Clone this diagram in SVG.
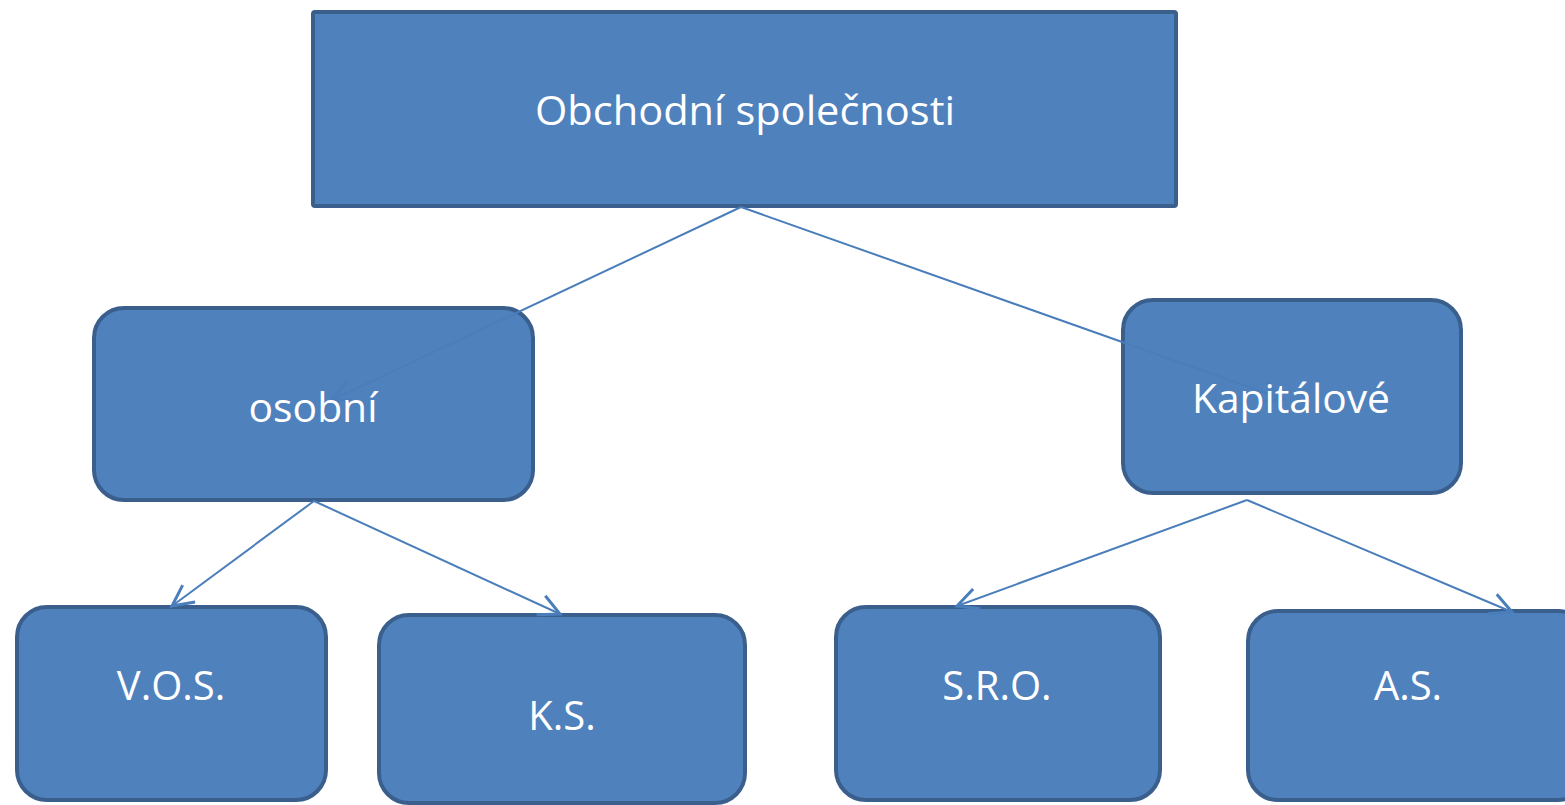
<svg xmlns="http://www.w3.org/2000/svg" width="1565" height="805" viewBox="0 0 1565 805">
  <style>
    .box { fill: #4F81BD; stroke: #3A5F8D; stroke-width: 4; }
    .lbl { fill: #FFFFFF; font-family: "Open Sans", "Noto Sans", "DejaVu Sans", sans-serif; font-size: 40px; text-anchor: middle; }
    .conn { fill: none; stroke: #4A7EBB; stroke-width: 2; }
  </style>
  <defs>
    <marker id="arr" markerUnits="userSpaceOnUse" markerWidth="30" markerHeight="30" viewBox="-16 -10 20 20" refX="0" refY="0" orient="auto">
      <path d="M -14 -7 L 0 0 L -14 7" fill="none" stroke="#4A7EBB" stroke-width="2"/>
    </marker>
  </defs>
  <rect width="1565" height="805" fill="#FFFFFF"/>

  <g id="node-obchodni">
    <rect class="box" x="313" y="12" width="863" height="194" rx="2"/>
  </g>
  <g id="node-osobni">
    <rect class="box" x="94" y="308" width="439" height="192" rx="30"/>
  </g>
  <g id="node-kapitalove">
    <rect class="box" x="1123" y="300" width="338" height="193" rx="30"/>
  </g>
  <g id="node-vos">
    <rect class="box" x="17" y="607" width="309" height="193" rx="30"/>
  </g>
  <g id="node-ks">
    <rect class="box" x="379" y="615" width="366" height="188" rx="30"/>
  </g>
  <g id="node-sro">
    <rect class="box" x="836" y="607" width="324" height="193" rx="30"/>
  </g>
  <g id="node-as">
    <rect class="box" x="1248" y="611" width="340" height="189" rx="30"/>
  </g>

  <g id="connectors">
    <line class="conn" x1="741" y1="207" x2="332" y2="400" marker-end="url(#arr)"/>
    <line class="conn" x1="741" y1="207" x2="1283" y2="399" marker-end="url(#arr)"/>
    <line class="conn" x1="314" y1="501" x2="172" y2="606" marker-end="url(#arr)"/>
    <line class="conn" x1="314" y1="501" x2="560" y2="614" marker-end="url(#arr)"/>
    <line class="conn" x1="1247" y1="500" x2="957" y2="606" marker-end="url(#arr)"/>
    <line class="conn" x1="1247" y1="500" x2="1512" y2="612" marker-end="url(#arr)"/>
  </g>

  <g id="labels">
    <text id="label-obchodni" class="lbl" x="745" y="125" textLength="420" lengthAdjust="spacingAndGlyphs">Obchodní společnosti</text>
    <text id="label-osobni" class="lbl" x="313" y="422" textLength="129" lengthAdjust="spacingAndGlyphs">osobní</text>
    <text id="label-kapitalove" class="lbl" x="1291" y="413" textLength="198" lengthAdjust="spacingAndGlyphs">Kapitálové</text>
    <text id="label-vos" class="lbl" x="171" y="700">V.O.S.</text>
    <text id="label-ks" class="lbl" x="562" y="730">K.S.</text>
    <text id="label-sro" class="lbl" x="997" y="700">S.R.O.</text>
    <text id="label-as" class="lbl" x="1408" y="700">A.S.</text>
  </g>
</svg>
